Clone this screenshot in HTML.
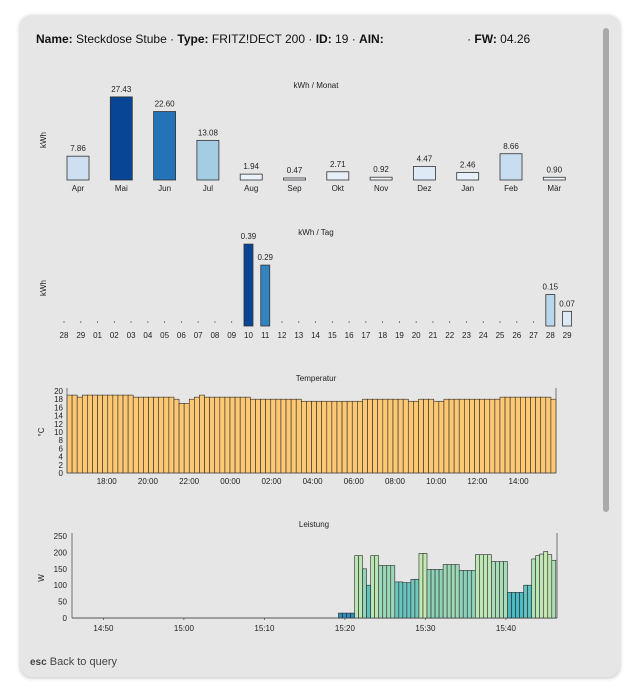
<!DOCTYPE html>
<html><head><meta charset="utf-8"><style>
body{margin:0;width:640px;height:699px;background:#fff;font-family:"Liberation Sans",sans-serif;overflow:hidden}
#panel{position:absolute;left:20px;top:15px;width:600px;height:662px;background:#e6e6e6;border-radius:12px;box-shadow:0 1px 4px rgba(0,0,0,.25)}
#hdr{position:absolute;left:36px;top:32px;font-size:12px;color:#111;white-space:pre}
#scroll{position:absolute;left:603px;top:28px;width:6px;height:484px;background:#a9a9a9;border-radius:3px}
#foot{position:absolute;left:30px;top:656px;font-size:11px;color:#444}
svg{position:absolute;left:0;top:0}
svg text{font-family:"Liberation Sans",sans-serif;fill:#222}
</style></head><body>
<div id="panel"></div>
<div id="hdr"><b>Name:</b> Steckdose Stube · <b>Type:</b> FRITZ!DECT 200 · <b>ID:</b> 19 · <b>AIN:</b>                         · <b>FW:</b> 04.26</div>
<div id="scroll"></div>
<div id="foot"><b style="font-size:10px">esc</b> Back to query</div>
<svg id="chart" width="640" height="699"></svg>
<script>
const months=["Apr","Mai","Jun","Jul","Aug","Sep","Okt","Nov","Dez","Jan","Feb","Mär"];
const monthVals=[7.86,27.43,22.60,13.08,1.94,0.47,2.71,0.92,4.47,2.46,8.66,0.90];
const days=["28","29","01","02","03","04","05","06","07","08","09","10","11","12","13","14","15","16","17","18","19","20","21","22","23","24","25","26","27","28","29"];
const dayVals=[0,0,0,0,0,0,0,0,0,0,0,0.39,0.29,0,0,0,0,0,0,0,0,0,0,0,0,0,0,0,0,0.15,0.07];
const tempVals=[19,19,18.5,19,19,19,19,19,19,19,19,19,19,18.5,18.5,18.5,18.5,18.5,18.5,18.5,18.5,18,17,17,18,18.5,19,18.5,18.5,18.5,18.5,18.5,18.5,18.5,18.5,18.5,18,18,18,18,18,18,18,18,18,18,17.5,17.5,17.5,17.5,17.5,17.5,17.5,17.5,17.5,17.5,17.5,17.5,18,18,18,18,18,18,18,18,18,17.5,17.5,18,18,18,17.5,17.5,18,18,18,18,18,18,18,18,18,18,18,18.5,18.5,18.5,18.5,18.5,18.5,18.5,18.5,18.5,18.5,18];
const tempTicks=["18:00","20:00","22:00","00:00","02:00","04:00","06:00","08:00","10:00","12:00","14:00"];
const tempTickHours=[1.93,3.93,5.93,7.93,9.93,11.93,13.93,15.93,17.93,19.93,21.93];
const powerTicks=["14:50","15:00","15:10","15:20","15:30","15:40"];
const powerTickMin=[3.9,13.9,23.9,33.9,43.9,53.9];
const powerStartMin=33.1;
const powerVals=[15,15,15,15,190,190,150,100,190,190,160,160,160,160,110,110,108,108,118,118,197,197,148,148,148,148,163,163,163,163,145,145,145,145,193,193,193,193,172,172,172,172,78,78,78,78,100,100,180,190,195,203,193,176];

const svg=document.getElementById('chart');
const NS='http://www.w3.org/2000/svg';
function mk(tag,attrs){const e=document.createElementNS(NS,tag);for(const k in attrs)e.setAttribute(k,attrs[k]);svg.appendChild(e);return e;}
function txt(x,y,s,size,anchor){const t=mk('text',{x:x,y:y,'font-size':size,'text-anchor':anchor||'middle'});t.textContent=s;return t;}
function lerp(a,b,t){return a.map((v,i)=>Math.round(v+(b[i]-v)*t));}
function ramp(stops,t){t=Math.max(0,Math.min(1,t));const n=stops.length-1;const i=Math.min(n-1,Math.floor(t*n));const c=lerp(stops[i],stops[i+1],t*n-i);return `rgb(${c})`;}
const blues=[[244,248,253],[222,235,247],[198,219,239],[158,202,225],[66,146,198],[33,113,181],[8,69,148]];
const ylgnbu=[[44,127,184],[65,182,196],[127,205,187],[199,233,180]];

// ---- monthly
{const x0=78,dx=43.3,base=180,sc=3.03;
let t=txt(316,88,'kWh / Monat',8);
t=txt(0,0,'kWh',8);t.setAttribute('transform','translate(46,140) rotate(-90)');
months.forEach((m,i)=>{const v=monthVals[i],x=x0+i*dx,h=Math.max(2,v*sc);
const r=mk('rect',{x:x-11,y:base-h,width:22,height:h,fill:ramp(blues,v/27.43),stroke:'#333','stroke-width':0.8});

const l=txt(x,base-h-5,v.toFixed(2),8);
const ml=txt(x,191,m,8);});}

// ---- daily
{const x0=64,dx=16.77,base=326,sc=210;
let t=txt(316,235,'kWh / Tag',8);
t=txt(0,0,'kWh',8);t.setAttribute('transform','translate(46,288) rotate(-90)');
days.forEach((d,i)=>{const x=x0+i*dx,v=dayVals[i];
mk('line',{x1:x,y1:321,x2:x,y2:323,stroke:'#666','stroke-width':0.8});
const dl=txt(x,338,d,8);
if(v>0){const h=v*sc;const r=mk('rect',{x:x-4.5,y:base-h,width:9,height:h,fill:ramp(blues,v/0.39),stroke:'#333','stroke-width':0.8});

const l=txt(x,base-h-5,v.toFixed(2),8);}});}

// ---- temperature
{const L=67,R=556,T=391,B=473;const bw=(R-L)/tempVals.length;const ys=v=>B-(v/20)*(B-T);const hx=h=>L+h*(R-L)/23.75;
let t=txt(316,381,'Temperatur',8);
t=txt(0,0,'°C',8);t.setAttribute('transform','translate(44,432) rotate(-90)');
for(let v=0;v<=20;v+=2){const l=txt(L-4,ys(v)+3,String(v),8,'end');}
tempVals.forEach((v,i)=>{const r=mk('rect',{x:L+i*bw,y:ys(v),width:bw,height:B-ys(v),fill:'#fdc874',stroke:'#2a2a2a','stroke-width':0.6});
});
mk('line',{x1:L,y1:T-3,x2:L,y2:B,stroke:'#555','stroke-width':0.8});mk('line',{x1:R,y1:T-3,x2:R,y2:B,stroke:'#555','stroke-width':0.8});
mk('line',{x1:L,y1:B,x2:R,y2:B,stroke:'#555','stroke-width':0.8});
tempTicks.forEach((s,i)=>{const l=txt(hx(tempTickHours[i]),484,s,8);});}

// ---- power
{const L=72,R=557,T=536,B=618;const pxm=8.05;const mx=m=>L+m*pxm;const ys=v=>B-(v/250)*(B-T);const bw=pxm/2;
let t=txt(314,527,'Leistung',8);
t=txt(0,0,'W',8);t.setAttribute('transform','translate(44,578) rotate(-90)');
for(let v=0;v<=250;v+=50){const l=txt(L-5,ys(v)+3,String(v),8,'end');}
mk('line',{x1:L,y1:T-3,x2:L,y2:B,stroke:'#555','stroke-width':0.8});mk('line',{x1:R,y1:T-3,x2:R,y2:B,stroke:'#555','stroke-width':0.8});
mk('line',{x1:L,y1:B,x2:R,y2:B,stroke:'#555','stroke-width':1});
powerVals.forEach((v,i)=>{const x=mx(powerStartMin)+i*bw;const r=mk('rect',{x:x,y:ys(v),width:bw,height:B-ys(v),fill:ramp(ylgnbu,v/200),stroke:'#2a2a2a','stroke-width':0.6});
});
powerTicks.forEach((s,i)=>{const l=txt(mx(powerTickMin[i]),631,s,8);
mk('line',{x1:mx(powerTickMin[i]),y1:B,x2:mx(powerTickMin[i]),y2:B+2,stroke:'#555','stroke-width':0.8});});}
</script>
</body></html>
